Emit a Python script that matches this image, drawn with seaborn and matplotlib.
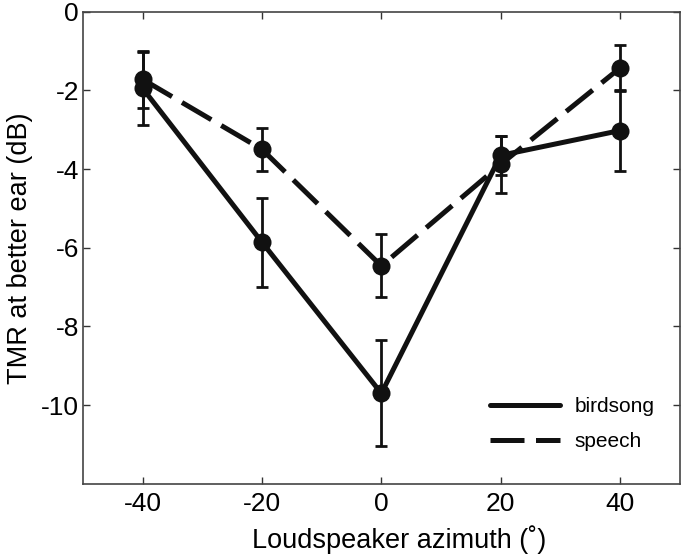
import numpy as np
import pandas as pd
import seaborn as sns
import matplotlib.pyplot as plt

# Data
azimuth = [-40, -20, 0, 20, 40]
birdsong_mean = [-1.95, -5.86, -9.70, -3.65, -3.02]
birdsong_err = [0.92, 1.13, 1.35, 0.50, 1.03]
speech_mean = [-1.72, -3.50, -6.46, -3.88, -1.43]
speech_err = [0.73, 0.55, 0.80, 0.72, 0.58]

df = pd.DataFrame({
    'azimuth': azimuth * 2,
    'tmr': birdsong_mean + speech_mean,
    'err': birdsong_err + speech_err,
    'masker': ['birdsong'] * 5 + ['speech'] * 5,
})

sns.set_style('ticks')
plt.rcParams['font.family'] = ['Liberation Sans', 'DejaVu Sans']
plt.rcParams['text.color'] = 'black'
plt.rcParams['axes.labelcolor'] = 'black'
plt.rcParams['xtick.color'] = 'black'
plt.rcParams['ytick.color'] = 'black'

fig = plt.figure(figsize=(6.81, 5.60), dpi=100)
ax = fig.add_axes([0.122, 0.136, 0.876, 0.843])

# error bars first, lines/markers on top
for name, sub in df.groupby('masker'):
    ax.errorbar(sub['azimuth'], sub['tmr'], yerr=sub['err'], fmt='none',
                ecolor='#111111', elinewidth=2.0, capsize=4, capthick=2.0, zorder=2)

sns.lineplot(data=df, x='azimuth', y='tmr', style='masker',
             style_order=['birdsong', 'speech'],
             dashes={'birdsong': '', 'speech': (6.8, 2.3)},
             markers={'birdsong': 'o', 'speech': 'o'},
             color='#111111', linewidth=3.6, markersize=13,
             markeredgewidth=0, ax=ax, zorder=3)

ax.set_xlim(-50, 50)
ax.set_ylim(-12, 0)
ax.set_xticks([-40, -20, 0, 20, 40])
ax.set_yticks([0, -2, -4, -6, -8, -10])
ax.set_xticklabels(['-40', '-20', '0', '20', '40'])
ax.set_yticklabels(['0', '-2', '-4', '-6', '-8', '-10'])
ax.tick_params(direction='in', top=True, right=True, length=5, width=1,
               labelsize=19, color='#333333')
ax.tick_params(axis='x', pad=6)
ax.tick_params(axis='y', pad=3)
for sp in ax.spines.values():
    sp.set_visible(True)
    sp.set_color('#444444')
    sp.set_linewidth(1.2)

ax.set_xlabel('Loudspeaker azimuth (˚)', fontsize=19.5)
ax.set_ylabel('TMR at better ear (dB)', fontsize=19.5, labelpad=6)
ax.xaxis.set_label_coords(0.53, -0.088)

leg = ax.legend(loc='lower right', frameon=False, fontsize=15,
                handlelength=3.4, handletextpad=0.7, labelspacing=0.75,
                bbox_to_anchor=(0.99, 0.03))
for h in leg.get_lines():
    h.set_marker('')
    h.set_linewidth(3.6)

fig.savefig('out.png', dpi=100)
